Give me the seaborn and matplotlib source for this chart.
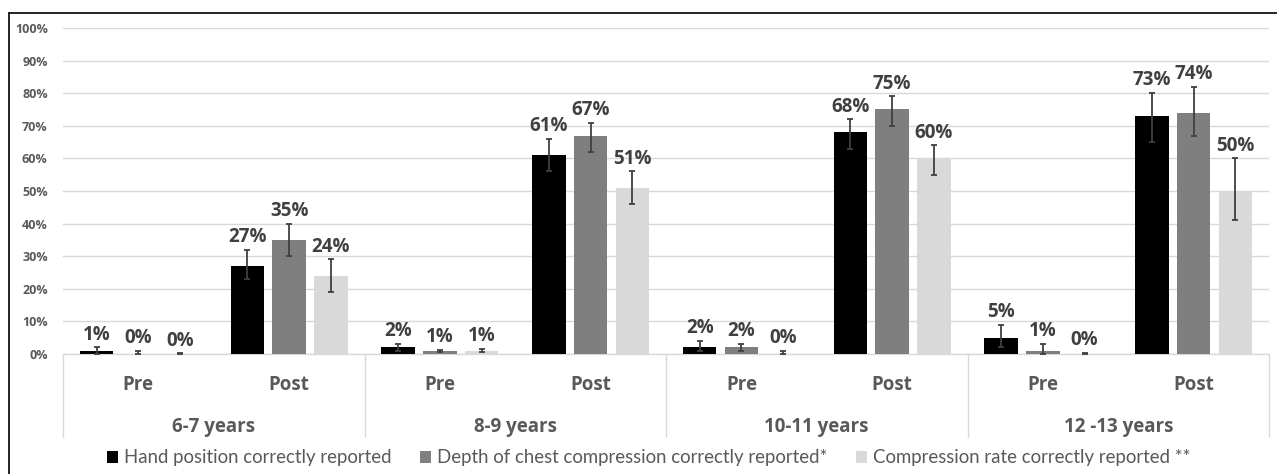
import numpy as np
import pandas as pd
import matplotlib
matplotlib.use("Agg")
import matplotlib.pyplot as plt
from matplotlib.lines import Line2D
from matplotlib.patches import Patch
import seaborn as sns

# ---- data -------------------------------------------------------------
age_groups = ["6-7 years", "8-9 years", "10-11 years", "12 -13 years"]
phases = ["Pre", "Post"]
series = [
    "Hand position correctly reported",
    "Depth of chest compression correctly reported*",
    "Compression rate correctly reported **",
]

# values per slot: (6-7 Pre, 6-7 Post, 8-9 Pre, 8-9 Post, ...)
hand_position = [1, 27, 2, 61, 2, 68, 5, 73]
chest_depth = [0, 35, 1, 67, 2, 75, 1, 74]
compression_rate = [0, 24, 1, 51, 0, 60, 0, 50]

# confidence interval bounds
hand_low = [0, 23, 1, 56, 1, 63, 2, 65]
hand_high = [2, 32, 3, 66, 4, 72, 9, 80]
depth_low = [0, 30, 0.7, 62, 1, 70, 0, 67]
depth_high = [1, 40, 1.3, 71, 3, 79, 3, 82]
rate_low = [0, 19, 0.5, 46, 0, 55, 0, 41]
rate_high = [0.2, 29, 1.5, 56, 1, 64, 0.3, 60]

colors = ["#000000", "#7f7f7f", "#d9d9d9"]

# ---- long table ---------------------------------------------------------
slots = list(range(len(age_groups) * len(phases)))
rows = []
for name, vals in zip(series, [hand_position, chest_depth, compression_rate]):
    for s, v in zip(slots, vals):
        rows.append({"slot": s, "measure": name, "pct": v})
df = pd.DataFrame(rows)

bounds = {
    series[0]: (hand_position, hand_low, hand_high),
    series[1]: (chest_depth, depth_low, depth_high),
    series[2]: (compression_rate, rate_low, rate_high),
}

# ---- figure -------------------------------------------------------------
sns.set_theme(style="white")
plt.rcParams["font.family"] = ["Lato", "DejaVu Sans"]
bold_font = ["Open Sans", "DejaVu Sans"]

fig = plt.figure(figsize=(12.77, 4.74), dpi=100)
ax = fig.add_axes([63 / 1277, 1 - 354 / 474, 1206 / 1277, 326 / 474])

sns.barplot(
    data=df, x="slot", y="pct", hue="measure", order=slots, hue_order=series,
    palette=colors, width=0.83, gap=0.2, errorbar=None, saturation=1,
    edgecolor="none", legend=False, ax=ax, zorder=2,
)

text_dark = "#404040"
text_grey = "#595959"

for container, name in zip(ax.containers, series):
    vals, lo, hi = bounds[name]
    xs = [b.get_x() + b.get_width() / 2 for b in container]
    vals = np.asarray(vals, float)
    lo = np.asarray(lo, float)
    hi = np.asarray(hi, float)
    ax.errorbar(xs, vals, yerr=[vals - lo, hi - vals], fmt="none",
                ecolor="#404040", elinewidth=1.3, capsize=2.5, capthick=1.3,
                zorder=3)
    for x, v, h in zip(xs, vals, hi):
        top = max(v, h)
        ax.annotate(f"{int(v)}%", (x, top), xytext=(0, 2),
                    textcoords="offset points", ha="center", va="bottom",
                    fontsize=13.5, fontweight="bold", family=bold_font,
                    color=text_dark, zorder=4)

# axes
ax.set_xlim(-0.5, len(slots) - 0.5)
ax.set_ylim(0, 100)
ax.set_yticks(np.arange(0, 101, 10))
ax.set_yticklabels([f"{t}%" for t in range(0, 101, 10)], fontsize=9,
                   fontweight="bold", family=bold_font, color=text_grey)
ax.yaxis.grid(True, color="#d9d9d9", linewidth=1.0, zorder=0)
ax.set_axisbelow(True)
for sp in ax.spines.values():
    sp.set_visible(False)
ax.tick_params(axis="y", length=0, pad=11)
ax.set_xlabel("")
ax.set_ylabel("")

# phase labels on the first tier
ax.set_xticks(slots)
ax.set_xticklabels(phases * len(age_groups), fontsize=13.5,
                   fontweight="bold", family=bold_font, color=text_grey)
ax.tick_params(axis="x", length=0, pad=15)

# category table beneath the bars
trans = ax.get_xaxis_transform()
depth_axes = -(437 - 354) / 326
ax.plot([-0.5, len(slots) - 0.5], [0, 0], transform=trans, color="#d9d9d9",
        linewidth=1.0, clip_on=False, zorder=1)
for b in np.arange(-0.5, len(slots), 2):
    ax.plot([b, b], [0, depth_axes], transform=trans, color="#d9d9d9",
            linewidth=1.0, clip_on=False)
for i, g in enumerate(age_groups):
    ax.text(2 * i + 0.5, -(427 - 354) / 326, g, transform=trans,
            ha="center", va="center", fontsize=13.5, fontweight="bold",
            family=bold_font, color=text_grey)

# legend
handles = [Patch(facecolor=c, edgecolor="none") for c in colors]
fig.legend(handles, series, loc="center", bbox_to_anchor=(0.508, 1 - 458 / 474),
           ncol=3, frameon=False, fontsize=13.4, labelcolor=text_grey,
           handlelength=0.6, handleheight=0.6, handletextpad=0.35,
           columnspacing=1.5)

# outer frame (top and left edges)
fig.add_artist(Line2D([9 / 1277, 1.0], [1 - 13 / 474, 1 - 13 / 474],
                      transform=fig.transFigure, color="#000000", linewidth=1.2))
fig.add_artist(Line2D([9 / 1277, 9 / 1277], [0.0, 1 - 13 / 474],
                      transform=fig.transFigure, color="#000000", linewidth=1.2))

fig.savefig("out.png", dpi=100)
